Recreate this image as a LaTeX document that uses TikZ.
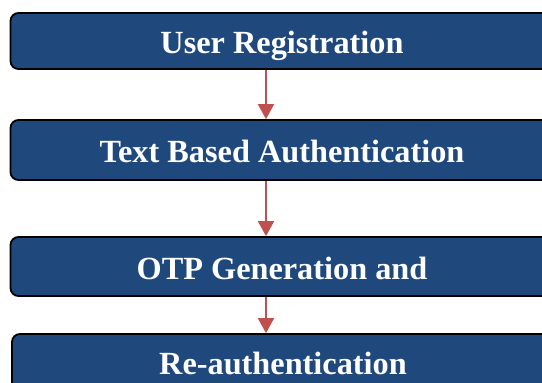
\documentclass[tikz,border=0pt]{standalone}
\usepackage{fontspec}
\setmainfont{Liberation Serif}
\usetikzlibrary{arrows.meta}
\definecolor{boxblue}{RGB}{31,73,125}
\definecolor{arrowred}{RGB}{192,80,77}
\tikzset{
  stagebox/.style={draw=black, line width=1.8pt, fill=boxblue, rounded corners=8pt,
    text=white, font=\bfseries\fontsize{32.3}{34}\selectfont,
    text height=25pt, text depth=0pt, inner sep=0pt, anchor=center},
  flowarrow/.style={draw=arrowred, line width=2pt, -{Triangle[width=16pt,length=15pt]}}
}
\begin{document}
\begin{tikzpicture}[x=1pt, y=-1pt]
  \useasboundingbox (0,0) rectangle (542,383);
  \clip (0,0) rectangle (542,383);
  \node[stagebox, minimum width=543pt, minimum height=56pt] (reg) at (282,41) {User Registration};
  \node[stagebox, minimum width=543pt, minimum height=60pt] (txt) at (282,150) {Text Based Authentication};
  \node[stagebox, minimum width=543pt, minimum height=59pt] (otp) at (282,266.5) {OTP Generation and};
  \node[stagebox, minimum width=542pt, minimum height=56pt] (reauth) at (283,362) {Re-authentication};
  \draw[flowarrow] ([xshift=-16pt]reg.south) -- ([xshift=-16pt]txt.north);
  \draw[flowarrow] ([xshift=-16pt]txt.south) -- ([xshift=-16pt]otp.north);
  \draw[flowarrow] ([xshift=-16pt]otp.south) -- ([xshift=-17pt]reauth.north);
\end{tikzpicture}
\end{document}
